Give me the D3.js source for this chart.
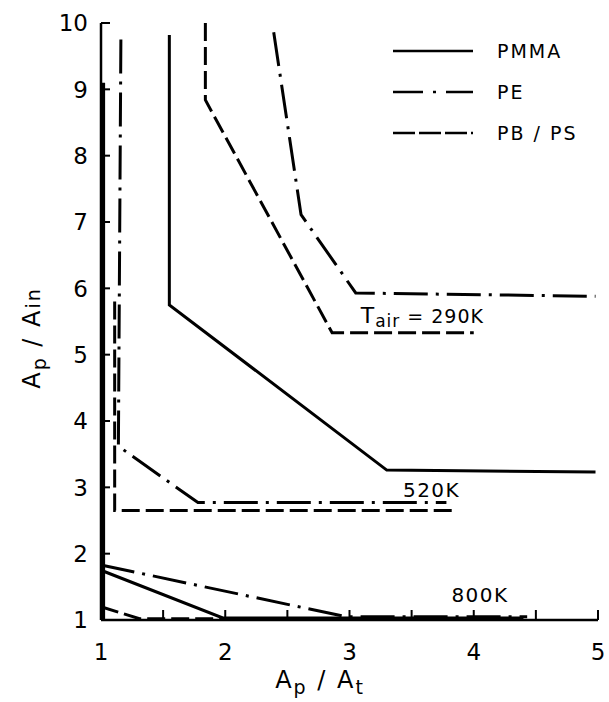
<!DOCTYPE html>
<html>
<head>
<meta charset="utf-8">
<script src="https://cdn.jsdelivr.net/npm/d3@7"></script>
<style>
  html, body { margin: 0; padding: 0; background: #fff; }
  svg text { font-family: "DejaVu Sans", "Liberation Sans", sans-serif; fill: #000; }
</style>
</head>
<body>
<div id="chart"></div>
<script>
(function () {
  // curves: [Ap/At, Ap/Ain]
  const pmma290 = [[1.55, 9.82], [1.55, 5.75], [3.30, 3.26], [4.98, 3.23]];
  const pe290 = [[2.39, 9.86], [2.61, 7.11], [3.05, 5.93], [4.98, 5.88]];
  const pbps290 = [[1.84, 10.0], [1.84, 8.84], [2.86, 5.33], [4.00, 5.33]];

  const pmma520 = [[1.015, 9.1], [1.015, 1.0]];
  const pe520 = [[1.16, 9.75], [1.14, 3.62], [1.78, 2.77], [3.78, 2.77]];
  const pbps520 = [[1.11, 5.8], [1.11, 2.65], [3.83, 2.65]];

  const pmma800 = [[1.0, 1.75], [1.98, 1.03], [4.40, 1.03]];
  const pe800 = [[1.0, 1.83], [2.97, 1.05], [4.43, 1.05]];
  const pbps800 = [[1.0, 1.2], [1.31, 1.02], [4.0, 1.02]];

  const xTicks = [1, 2, 3, 4, 5];
  const xMinorTicks = [1.5, 2, 2.5, 3, 3.5, 4, 4.5, 5];
  const yTicks = [1, 2, 3, 4, 5, 6, 7, 8, 9, 10];

  const legendNames = ["PMMA", "PE", "PB / PS"];

  const width = 609;
  const height = 702;
  const margin = { top: 23, right: 11, bottom: 82, left: 101 };

  const dashFor = {
    PMMA: null,
    PE: "34,8,3,8",
    PBPS: "18,6"
  };

  const series = [
    { pts: pmma290, kind: "PMMA" },
    { pts: pe290, kind: "PE" },
    { pts: pbps290, kind: "PBPS" },
    { pts: pmma520, kind: "PMMA", w: 4.5 },
    { pts: pe520, kind: "PE" },
    { pts: pbps520, kind: "PBPS" },
    { pts: pmma800, kind: "PMMA" },
    { pts: pe800, kind: "PE" },
    { pts: pbps800, kind: "PBPS" }
  ];

  const x = d3.scaleLinear([1, 5], [margin.left, width - margin.right]);
  const y = d3.scaleLinear([1, 10], [height - margin.bottom, margin.top]);

  const svg = d3.create("svg")
    .attr("width", width)
    .attr("height", height)
    .attr("viewBox", [0, 0, width, height]);

  // axes
  const axisG = svg.append("g")
    .attr("stroke", "#000")
    .attr("stroke-width", 2.5)
    .attr("fill", "none");

  axisG.append("line")
    .attr("x1", x(1)).attr("x2", x(1))
    .attr("y1", y(10)).attr("y2", y(1));
  axisG.append("line")
    .attr("x1", x(1)).attr("x2", x(5))
    .attr("y1", y(1)).attr("y2", y(1));

  axisG.selectAll("line.ytick")
    .data(yTicks)
    .join("line")
      .attr("class", "ytick")
      .attr("x1", x(1)).attr("x2", x(1) + 9)
      .attr("y1", d => y(d)).attr("y2", d => y(d))
      .attr("stroke-width", 2);

  axisG.selectAll("line.xtick")
    .data(xMinorTicks)
    .join("line")
      .attr("class", "xtick")
      .attr("x1", d => x(d)).attr("x2", d => x(d))
      .attr("y1", y(1)).attr("y2", y(1) - 10)
      .attr("stroke-width", 2);

  svg.selectAll("text.ylab")
    .data(yTicks)
    .join("text")
      .attr("class", "ylab")
      .attr("x", x(1) - 13)
      .attr("y", d => y(d))
      .attr("dy", "0.36em")
      .attr("text-anchor", "end")
      .attr("font-size", 23)
      .text(d => d);

  svg.selectAll("text.xlab")
    .data(xTicks)
    .join("text")
      .attr("class", "xlab")
      .attr("x", d => x(d))
      .attr("y", y(1) + 40)
      .attr("text-anchor", "middle")
      .attr("font-size", 23)
      .text(d => d);

  // axis titles
  const xTitle = svg.append("text")
    .attr("x", 320)
    .attr("y", 688)
    .attr("text-anchor", "middle")
    .attr("font-size", 24)
    .attr("letter-spacing", 2);
  xTitle.append("tspan").text("A");
  xTitle.append("tspan").attr("dy", 6).attr("font-size", 19).text("p");
  xTitle.append("tspan").attr("dy", -6).text(" / A");
  xTitle.append("tspan").attr("dy", 6).attr("font-size", 19).text("t");

  const yTitle = svg.append("text")
    .attr("transform", "translate(40,338) rotate(-90)")
    .attr("text-anchor", "middle")
    .attr("font-size", 24)
    .attr("letter-spacing", 2);
  yTitle.append("tspan").text("A");
  yTitle.append("tspan").attr("dy", 6).attr("font-size", 19).text("p");
  yTitle.append("tspan").attr("dy", -6).text(" / A");
  yTitle.append("tspan").attr("dy", 0).attr("font-size", 19).text("in");

  // curves
  const line = d3.line().x(d => x(d[0])).y(d => y(d[1]));

  svg.append("g")
    .selectAll("path")
    .data(series)
    .join("path")
      .attr("d", d => line(d.pts))
      .attr("fill", "none")
      .attr("stroke", "#000")
      .attr("stroke-width", d => d.w || 3)
      .attr("stroke-dasharray", d => dashFor[d.kind]);

  // temperature labels
  const t290 = svg.append("text")
    .attr("x", x(3.09))
    .attr("y", y(5.47))
    .attr("font-size", 19)
    .attr("letter-spacing", 1);
  t290.append("tspan").attr("font-size", 22).text("T");
  t290.append("tspan").attr("dy", 4).attr("font-size", 17).text("air");
  t290.append("tspan").attr("dy", -4).text(" = 290K");

  svg.append("text")
    .attr("x", x(3.43))
    .attr("y", y(2.86))
    .attr("font-size", 20)
    .attr("letter-spacing", 1.5)
    .text("520K");

  svg.append("text")
    .attr("x", x(3.82))
    .attr("y", y(1.27))
    .attr("font-size", 20)
    .attr("letter-spacing", 1.5)
    .text("800K");

  // legend
  const legend = svg.append("g")
    .selectAll("g")
    .data(legendNames)
    .join("g")
      .attr("transform", (d, i) => `translate(393,${51 + i * 41})`);

  legend.append("line")
    .attr("x1", 0).attr("x2", 80)
    .attr("stroke", "#000")
    .attr("stroke-width", 2.7)
    .attr("stroke-dasharray", (d, i) => i === 1 ? "30,10,3,10" : (i === 2 ? "22,4" : null));

  legend.append("text")
    .attr("x", 104)
    .attr("dy", "0.36em")
    .attr("font-size", 19)
    .attr("letter-spacing", 2)
    .text(d => d);

  d3.select("#chart").node().appendChild(svg.node());
})();
</script>
</body>
</html>
